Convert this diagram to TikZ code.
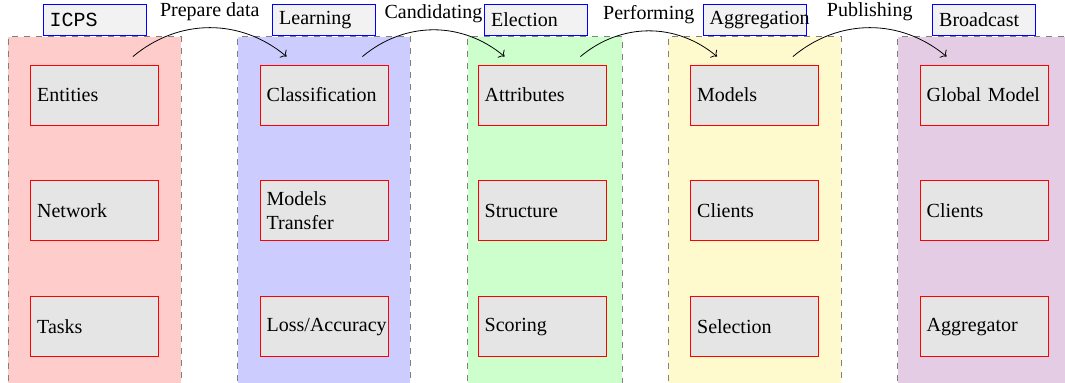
\documentclass[tikz,border=0pt]{standalone}
\usepackage{fontspec}
\setmainfont{Liberation Serif}
\setmonofont{Liberation Mono}
\usepackage{tikz}
\usetikzlibrary{positioning, fit, backgrounds, arrows.meta}
\definecolor{lemon}{HTML}{FFFACD}

\begin{document}
\begin{tikzpicture}[
    x=0.5pt, y=-0.5pt,
    node distance=27.5pt,
    item/.style={draw=red, fill=gray!20, minimum width=64pt, minimum height=30pt, text width=57.33pt, inner sep=3.33pt, align=left},
    stage/.style={draw=blue, fill=gray!10, minimum width=51.5pt, minimum height=15.5pt, text width=44.83pt, inner sep=3.33pt, align=left},
    zone/.style={draw=gray, dashed, inner xsep=11pt, inner ysep=14pt},
    flow/.style={->, bend left=40},
    steplabel/.style={midway, above}
]
\useasboundingbox (0,0) rectangle (1065,383);

% stage titles
\node[stage] (tIcps) at (94.5,20) {\ttfamily ICPS};
\node[stage] (tLearn) at (324,20) {Learning};
\node[stage] (tElect) at (536,20) {Election};
\node[stage] (tAggr) at (754.5,20) {Aggregation};
\node[stage] (tBroad) at (984,20) {Broadcast};

% ICPS
\node[item] (ent) at (94.5,95) {Entities};
\node[item, below=of ent] (net) {Network};
\node[item, below=of net] (task) {Tasks};

% learning
\node[item] (cls) at (324,95) {Classification};
\node[item, below=of cls] (mtr) {Models\\Transfer};
\node[item, below=of mtr] (loss) {Loss/Accuracy};

% election
\node[item] (attr) at (542,95) {Attributes};
\node[item, below=of attr] (struct) {Structure};
\node[item, below=of struct] (score) {Scoring};

% aggregation
\node[item] (mod) at (754.5,95) {Models};
\node[item, below=of mod] (cli) {Clients};
\node[item, below=of cli] (sel) {Selection};

% broadcast
\node[item] (glob) at (984,95) {Global Model};
\node[item, below=of glob] (gcli) {Clients};
\node[item, below=of gcli] (agg) {Aggregator};

\begin{scope}[on background layer]
    \node[zone, fill=red!20, fit=(ent)(task)] (zIcps) {};
    \node[zone, fill=blue!20, fit=(cls)(loss)] (zLearn) {};
    \node[zone, fill=green!20, fit=(attr)(score), inner xsep=6.5pt, xshift=1.5pt] (zElect) {};
    \node[zone, fill=lemon, fit=(mod)(sel)] (zAggr) {};
    \node[zone, fill=violet!20, fit=(glob)(agg)] (zBroad) {};
\end{scope}

\draw[flow] ([xshift=-13pt, yshift=4pt]ent.north east) to node[steplabel] {Prepare data} ([xshift=13.5pt, yshift=4pt]cls.north west);
\draw[flow] ([xshift=-13pt, yshift=4pt]cls.north east) to node[steplabel] {Candidating} ([xshift=13.5pt, yshift=4pt]attr.north west);
\draw[flow] ([xshift=-13pt, yshift=4pt]attr.north east) to node[steplabel] {Performing} ([xshift=13.5pt, yshift=4pt]mod.north west);
\draw[flow] ([xshift=-13pt, yshift=4pt]mod.north east) to node[steplabel] {Publishing} ([xshift=13.5pt, yshift=4pt]glob.north west);

\end{tikzpicture}
\end{document}
